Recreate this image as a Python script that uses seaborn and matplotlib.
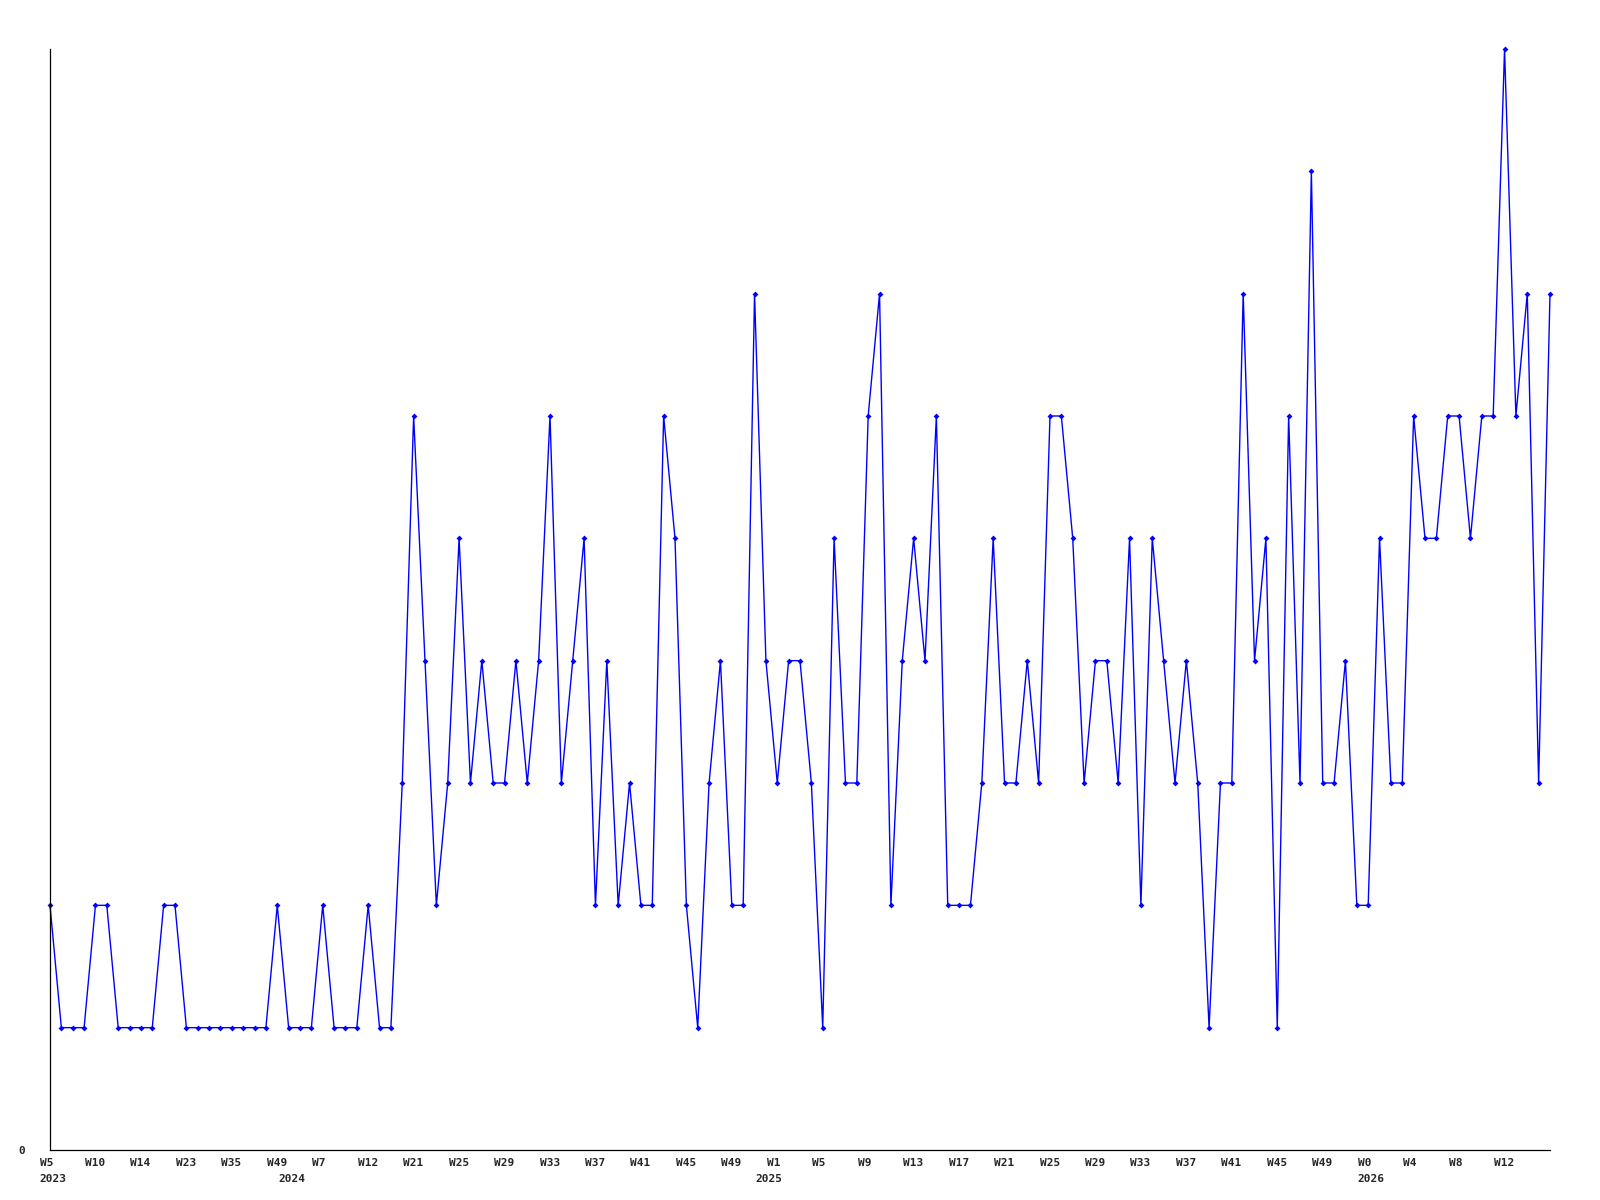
import pandas as pd
import seaborn as sns
import matplotlib.pyplot as plt
import matplotlib.transforms as mtransforms

# weekly counts, one point per week in the data
values = [
    2, 1, 1, 1, 2, 2, 1, 1, 1, 1, 2, 2, 1, 1, 1, 1, 1, 1, 1, 1,
    2, 1, 1, 1, 2, 1, 1, 1, 2, 1, 1, 3, 6, 4, 2, 3, 5, 3, 4, 3,
    3, 4, 3, 4, 6, 3, 4, 5, 2, 4, 2, 3, 2, 2, 6, 5, 2, 1, 3, 4,
    2, 2, 7, 4, 3, 4, 4, 3, 1, 5, 3, 3, 6, 7, 2, 4, 5, 4, 6, 2,
    2, 2, 3, 5, 3, 3, 4, 3, 6, 6, 5, 3, 4, 4, 3, 5, 2, 5, 4, 3,
    4, 3, 1, 3, 3, 7, 4, 5, 1, 6, 3, 8, 3, 3, 4, 2, 2, 5, 3, 3,
    6, 5, 5, 6, 6, 5, 6, 6, 9, 6, 7, 3, 7,
]
week_labels = [
    'W5', 'W10', 'W14', 'W23', 'W35', 'W49', 'W7', 'W12', 'W21', 'W25',
    'W29', 'W33', 'W37', 'W41', 'W45', 'W49', 'W1', 'W5', 'W9', 'W13',
    'W17', 'W21', 'W25', 'W29', 'W33', 'W37', 'W41', 'W45', 'W49', 'W0',
    'W4', 'W8', 'W12',
]
year_labels = ['2023', '2024', '2025', '2026']
year_pos = [0, 21, 63, 116]

df = pd.DataFrame({'week': range(len(values)), 'count': values})

sns.set_style('white')
plt.rcParams['font.family'] = ['DejaVu Sans Mono']

fig = plt.figure(figsize=(16, 12), dpi=100)
ax = fig.add_axes([50 / 1600, 50 / 1200, 1500 / 1600, 1101 / 1200])

sns.lineplot(data=df, x='week', y='count', ax=ax, color='#0000ff',
             linewidth=1, marker='D', markersize=3, markeredgewidth=0,
             clip_on=False)

ax.set_xlim(0, len(values) - 1)
ax.set_ylim(0, 9)
ax.set_xlabel('')
ax.set_ylabel('')

for s in ['top', 'right']:
    ax.spines[s].set_visible(False)
for s in ['left', 'bottom']:
    ax.spines[s].set_color('black')
    ax.spines[s].set_linewidth(0.9)

ax.set_yticks([0])
ax.set_yticklabels(['0'], fontsize=8, fontweight='bold')
ax.tick_params(axis='y', length=0, pad=18)

# a label every 4th week
ax.xaxis.remove_overlapping_locs = False
ax.set_xticks(range(0, 4 * len(week_labels), 4))
ax.set_xticklabels(week_labels, fontsize=8, fontweight='bold', ha='left')
ax.set_xticks(year_pos, minor=True)
ax.set_xticklabels(year_labels, minor=True, fontsize=8, fontweight='bold', ha='left')
ax.tick_params(axis='x', which='major', length=0, pad=6)
ax.tick_params(axis='x', which='minor', length=0, pad=17)

shift = mtransforms.ScaledTranslation(-10.5 / 100, 0, fig.dpi_scale_trans)
for lab in ax.get_xticklabels() + ax.get_xticklabels(minor=True):
    lab.set_transform(lab.get_transform() + shift)

fig.savefig('out.png', dpi=100)
